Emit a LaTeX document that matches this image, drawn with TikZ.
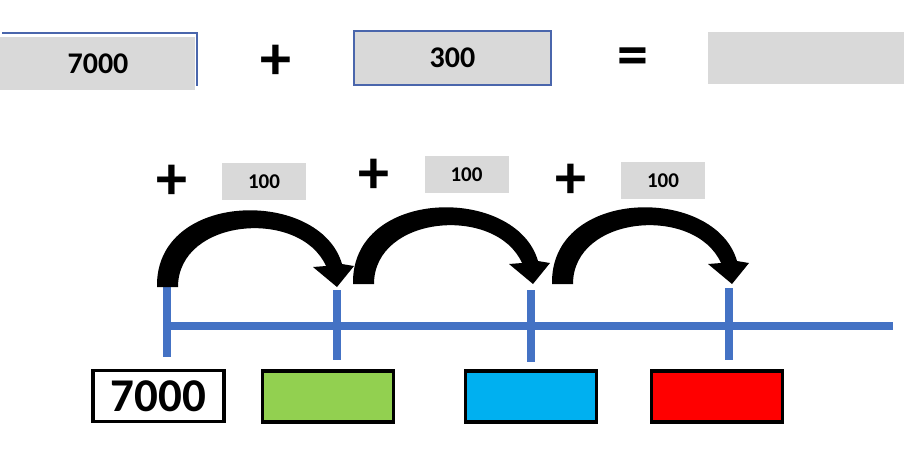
\documentclass[tikz,border=0pt]{standalone}
\usepackage{fontspec}
\setmainfont{Carlito}
\definecolor{lineblue}{HTML}{4472C4}
\definecolor{edgeblue}{HTML}{4A66AC}
\definecolor{boxgray}{HTML}{D9D9D9}
\definecolor{boxgreen}{HTML}{92D050}
\definecolor{boxcyan}{HTML}{00B0F0}
\definecolor{boxred}{HTML}{FF0000}
\begin{document}
\begin{tikzpicture}[x=1pt,y=-1pt,
  bignum/.style={font=\fontsize{30}{36}\selectfont\bfseries, inner sep=0pt},
  smallnum/.style={font=\fontsize{21}{25}\selectfont\bfseries, inner sep=0pt},
  opsign/.style={font=\fontsize{62}{70}\selectfont\bfseries, inner sep=0pt},
  answerbox/.style={draw=black, line width=3.5pt, minimum width=131pt, minimum height=51pt, inner sep=0pt},
  tick/.style={draw=lineblue, line width=8pt},
  jump/.pic={
    \fill[black] (0,0) -- (21,0)
      .. controls (21,-69) and (143,-79) .. (169,-21)
      -- (156,-20) -- (180,0) -- (197,-21) -- (185,-23)
      .. controls (163,-99) and (-2,-97) .. (0,0) -- cycle;
  }]
\useasboundingbox (0,0) rectangle (904,455);

% top equation
\fill[boxgray] (0,37) rectangle (195,90);
\draw[edgeblue, line width=1.5pt] (2,33) -- (197,33) -- (197,86);
\node[bignum] (a) at (98,64) {7000};
\node[opsign] (plus) at (276,62) {+};
\node[draw=edgeblue, line width=1.5pt, fill=boxgray, minimum width=197pt, minimum height=54pt, inner sep=0pt] (bbox) at (452.5,58) {};
\node[bignum] (b) at (bbox.center) {300};
\node[opsign] (eq) at (633,62) {=};
\node[fill=boxgray, minimum width=196pt, minimum height=52pt, inner sep=0pt] (res) at (806,58) {};

% number line
\coordinate (ls) at (166,326);
\coordinate (le) at (893,326);
\draw[draw=lineblue, line width=8pt] (ls) -- (le);
\coordinate (t1a) at (167,286); \coordinate (t1b) at (167,357);
\coordinate (t2a) at (337,290); \coordinate (t2b) at (337,360);
\coordinate (t3a) at (531,290); \coordinate (t3b) at (531,362);
\coordinate (t4a) at (729,288); \coordinate (t4b) at (729,360);
\draw[tick] (t1a) -- (t1b);
\draw[tick] (t2a) -- (t2b);
\draw[tick] (t3a) -- (t3b);
\draw[tick] (t4a) -- (t4b);

% jumps
\pic at (157,287) {jump};
\pic at (353,284) {jump};
\pic at (552,284) {jump};

% jump labels
\node[opsign] (p1) at (172,182) {+};
\node[fill=boxgray, minimum width=84pt, minimum height=37pt, inner sep=0pt] (s1) at (264,181.5) {};
\node[smallnum] at (s1.center) {100};
\node[opsign] (p2) at (374,176) {+};
\node[fill=boxgray, minimum width=84pt, minimum height=37pt, inner sep=0pt] (s2) at (466.5,174.5) {};
\node[smallnum] at (s2.center) {100};
\node[opsign] (p3) at (571,181) {+};
\node[fill=boxgray, minimum width=84pt, minimum height=37pt, inner sep=0pt] (s3) at (663,180.5) {};
\node[smallnum] at (s3.center) {100};

% answer boxes
\node[answerbox, fill=white] (n0) at (158.5,396) {};
\node[font=\fontsize{47}{54}\selectfont\bfseries, inner sep=0pt] (n0t) at (n0.center) {7000};
\node[answerbox, fill=boxgreen] (n1) at (328,396.5) {};
\node[answerbox, fill=boxcyan] (n2) at (531,396.5) {};
\node[answerbox, fill=boxred] (n3) at (717,396.5) {};
\end{tikzpicture}
\end{document}
